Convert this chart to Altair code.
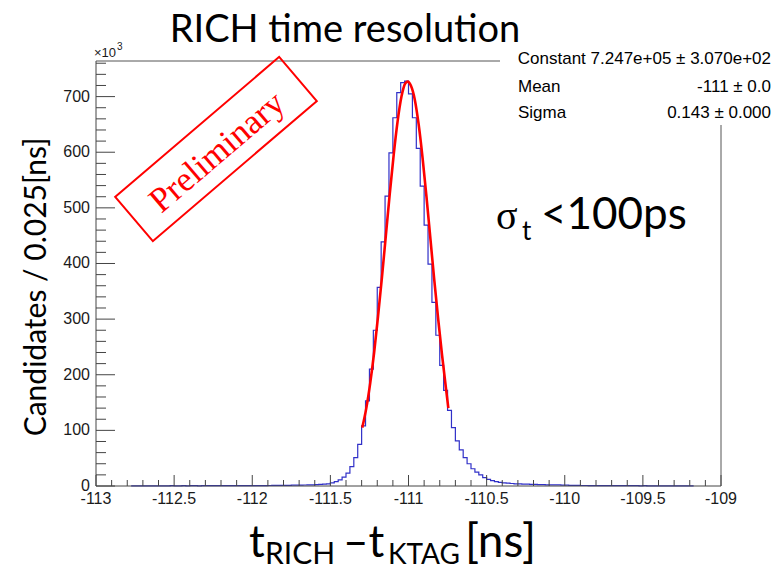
import altair as alt
import pandas as pd
import numpy as np

# ---------------- data ----------------
BIN_WIDTH = 0.025          # ns
FIRST_EDGE = -112.775      # lower edge of first filled bin (ns)

# counts in units of 10^3 candidates per bin
tail_left = [0.3, 0.3, 0.4, 0.3, 0.4, 0.4, 0.3, 0.4, 0.4, 0.4,
             0.5, 0.4, 0.4, 0.5, 0.4, 0.5, 0.5, 0.4, 0.5, 0.5,
             0.5, 0.6, 0.5, 0.5, 0.6, 0.6, 0.6, 0.6, 0.7, 0.6,
             0.7, 0.7, 0.7, 0.8, 0.8, 0.9]
rise_left = [1.0, 1.1, 1.2, 1.2, 1.3, 1.4, 1.5, 1.6, 1.8, 2.0, 2.2, 2.6]
core = [3.0, 3.4, 4.0, 5.5, 8, 11, 16, 23, 35, 51,
        75, 108, 153, 210, 280, 357, 439, 521, 599, 662,
        707, 725, 728, 705, 662, 607, 539, 469, 399, 330,
        271, 217, 172, 136, 105, 81, 65, 51, 40, 31,
        25, 20, 15, 12, 9.5, 8, 6.5, 5.5, 5.0, 4.5,
        4.0, 3.8, 3.5, 3.2, 3.0, 2.8, 2.6, 2.4, 2.2, 2.1,
        2.0, 1.9, 1.6]
tail_right = [1.4, 1.2, 1.1, 1.0, 0.9, 0.9, 0.8, 0.8, 0.7, 0.7,
              0.7, 0.6, 0.6, 0.6, 0.5, 0.6, 0.5, 0.5, 0.5, 0.4,
              0.5, 0.4, 0.4, 0.4, 0.4, 0.3, 0.4, 0.3, 0.3, 0.3,
              0.3, 0.3, 0.2]

# Gaussian fit curve as drawn (ns, 10^3)
fit_x = [-111.296, -111.27, -111.245, -111.22, -111.195, -111.17, -111.145,
         -111.12, -111.095, -111.07, -111.045, -111.02, -111.005, -110.985,
         -110.96, -110.935, -110.91, -110.885, -110.86, -110.835, -110.81,
         -110.785, -110.76, -110.745]
fit_y = [105, 140, 185, 240, 305, 375, 450,
         525, 595, 655, 700, 724, 727, 720,
         695, 650, 590, 520, 445, 370, 300,
         235, 175, 140]

x_major = [-113, -112.5, -112, -111.5, -111, -110.5, -110, -109.5, -109]
x_tick_labels = ["-113", "-112.5", "-112", "-111.5", "-111", "-110.5", "-110", "-109.5", "-109"]
y_major = [0, 100, 200, 300, 400, 500, 600, 700]
y_tick_labels = ["0", "100", "200", "300", "400", "500", "600", "700"]
X_DOMAIN = [-113, -109]
Y_DOMAIN = [0, 764]

stats_rows = [("Constant 7.247e+05 \u00b1 3.070e+02", ""),
              ("Mean", "-111 \u00b1 0.0"),
              ("Sigma", "0.143 \u00b1 0.000")]

# ---------------- geometry of the page ----------------
L, T = 96, 61
W, H = 625, 425
AX = "#444444"
LABEL_SIZE = 16

counts = tail_left + rise_left + core + tail_right
edges = [round(FIRST_EDGE + i * BIN_WIDTH, 4) for i in range(len(counts) + 1)]
hist_df = pd.DataFrame({"t": edges, "n": counts + [counts[-1]]})
fit_df = pd.DataFrame({"t": fit_x, "n": fit_y})

x_minor = [float(v) for v in np.round(np.arange(-113, -108.95, 0.1), 2)
           if abs(v * 2 - round(v * 2)) > 1e-6]
y_minor = [v for v in range(20, 764, 20) if v % 100 != 0]

xs = alt.Scale(domain=X_DOMAIN, nice=False, zero=False)
ys = alt.Scale(domain=Y_DOMAIN, nice=False, zero=False)

hist = alt.Chart(hist_df).mark_line(
    interpolate="step-after", color="#3030c8", strokeWidth=1.2
).encode(
    x=alt.X("t:Q", scale=xs, axis=None),
    y=alt.Y("n:Q", scale=ys, axis=None),
)

fit = alt.Chart(fit_df).mark_line(
    interpolate="monotone", color="#ff0000", strokeWidth=2.6
).encode(
    x=alt.X("t:Q", scale=xs, axis=None),
    y=alt.Y("n:Q", scale=ys, axis=None),
)

def xticks(vals, length):
    return alt.Chart(pd.DataFrame({"t": vals})).mark_rule(color=AX, strokeWidth=1).encode(
        x=alt.X("t:Q", scale=xs, axis=None), y=alt.value(H), y2=alt.value(H - length))

def yticks(vals, length):
    return alt.Chart(pd.DataFrame({"n": vals})).mark_rule(color=AX, strokeWidth=1).encode(
        y=alt.Y("n:Q", scale=ys, axis=None), x=alt.value(0), x2=alt.value(length))

x_lab = alt.Chart(pd.DataFrame({"t": x_major, "s": x_tick_labels})).mark_text(
    font="Liberation Sans", fontSize=LABEL_SIZE, color="#1a1a1a", align="center", baseline="top"
).encode(x=alt.X("t:Q", scale=xs, axis=None), y=alt.value(H + 5), text="s:N")

y_lab = alt.Chart(pd.DataFrame({"n": y_major, "s": y_tick_labels})).mark_text(
    font="Liberation Sans", fontSize=LABEL_SIZE, color="#1a1a1a", align="right", baseline="middle"
).encode(y=alt.Y("n:Q", scale=ys, axis=None), x=alt.value(-6), text="s:N")

def hline(x1, x2, y, color=AX):
    return alt.Chart(pd.DataFrame({"d": [0]})).mark_rule(color=color, strokeWidth=1).encode(
        x=alt.value(x1), x2=alt.value(x2), y=alt.value(y))

def vline(x, y1, y2, color=AX):
    return alt.Chart(pd.DataFrame({"d": [0]})).mark_rule(color=color, strokeWidth=1).encode(
        x=alt.value(x), y=alt.value(y1), y2=alt.value(y2))

frames = [
    hline(0, W, H),                   # bottom axis
    vline(0, 0, H),                   # left axis
    hline(0, 500 - L, 0, "#555555"),  # top frame (stops at stats box)
    vline(W, 125 - T, H, "#555555"),  # right frame (below stats box)
]

def txt(s, px, py, size, font="Liberation Sans", color="#000000", align="left",
        baseline="alphabetic", angle=None):
    props = dict(text=s, fontSize=size, font=font, color=color, align=align, baseline=baseline)
    if angle is not None:
        props["angle"] = angle
    return alt.Chart(pd.DataFrame({"d": [0]})).mark_text(**props).encode(
        x=alt.value(px - L), y=alt.value(py - T))

texts = [
    txt("RICH time resolution", 345, 42, 38, font="Lato", align="center"),
    txt("\u00d710", 94, 57, 13, color="#1a1a1a"),
    txt("3", 117, 50, 10, color="#1a1a1a"),
    txt("Candidates / 0.025[ns]", 46, 287, 30, font="Lato", align="center", angle=270),
    # x-axis title with subscripts
    txt("t", 249, 557, 44, font="Lato"),
    txt("RICH", 265, 564, 30, font="Lato"),
    txt("\u2013t", 343, 557, 44, font="Lato"),
    txt("KTAG", 388, 564, 28, font="Lato"),
    txt("[ns]", 465, 557, 46, font="Lato"),
    # sigma annotation
    txt("\u03c3", 496, 229, 40, font="Liberation Serif"),
    txt("t", 522, 240, 26, font="Lato"),
    txt("<100ps", 541, 229, 44, font="Lato"),
    # stats box
    txt(stats_rows[0][0], 771, 64, 17, align="right"),
    txt(stats_rows[1][0], 518, 92, 17),
    txt(stats_rows[1][1], 771, 92, 17, align="right"),
    txt(stats_rows[2][0], 518, 118, 17),
    txt(stats_rows[2][1], 771, 118, 17, align="right"),
    # preliminary stamp
    txt("Preliminary", 217, 152, 35, font="Liberation Serif", color="#ff0000",
        align="center", baseline="middle", angle=319.5),
]

stamp = alt.Chart(pd.DataFrame({"d": [0]})).mark_point(
    shape="M -1 -0.269 L 1 -0.269 L 1 0.269 L -1 0.269 Z",
    size=215.6 ** 2, angle=319.5, filled=False, color="#ff0000",
    strokeWidth=2, opacity=1
).encode(x=alt.value(216 - L), y=alt.value(149 - T))

chart = alt.layer(
    hist, fit,
    xticks(x_major, 11), xticks(x_minor, 6),
    yticks(y_major, 19), yticks(y_minor, 10),
    x_lab, y_lab, *frames, stamp, *texts
).properties(
    width=W, height=H, autosize="none",
    padding={"left": L, "top": T, "right": 773 - L - W, "bottom": 569 - T - H},
    background="white",
).configure_view(stroke=None)

chart.save("out.html", embed_options={"renderer": "svg", "actions": False})
